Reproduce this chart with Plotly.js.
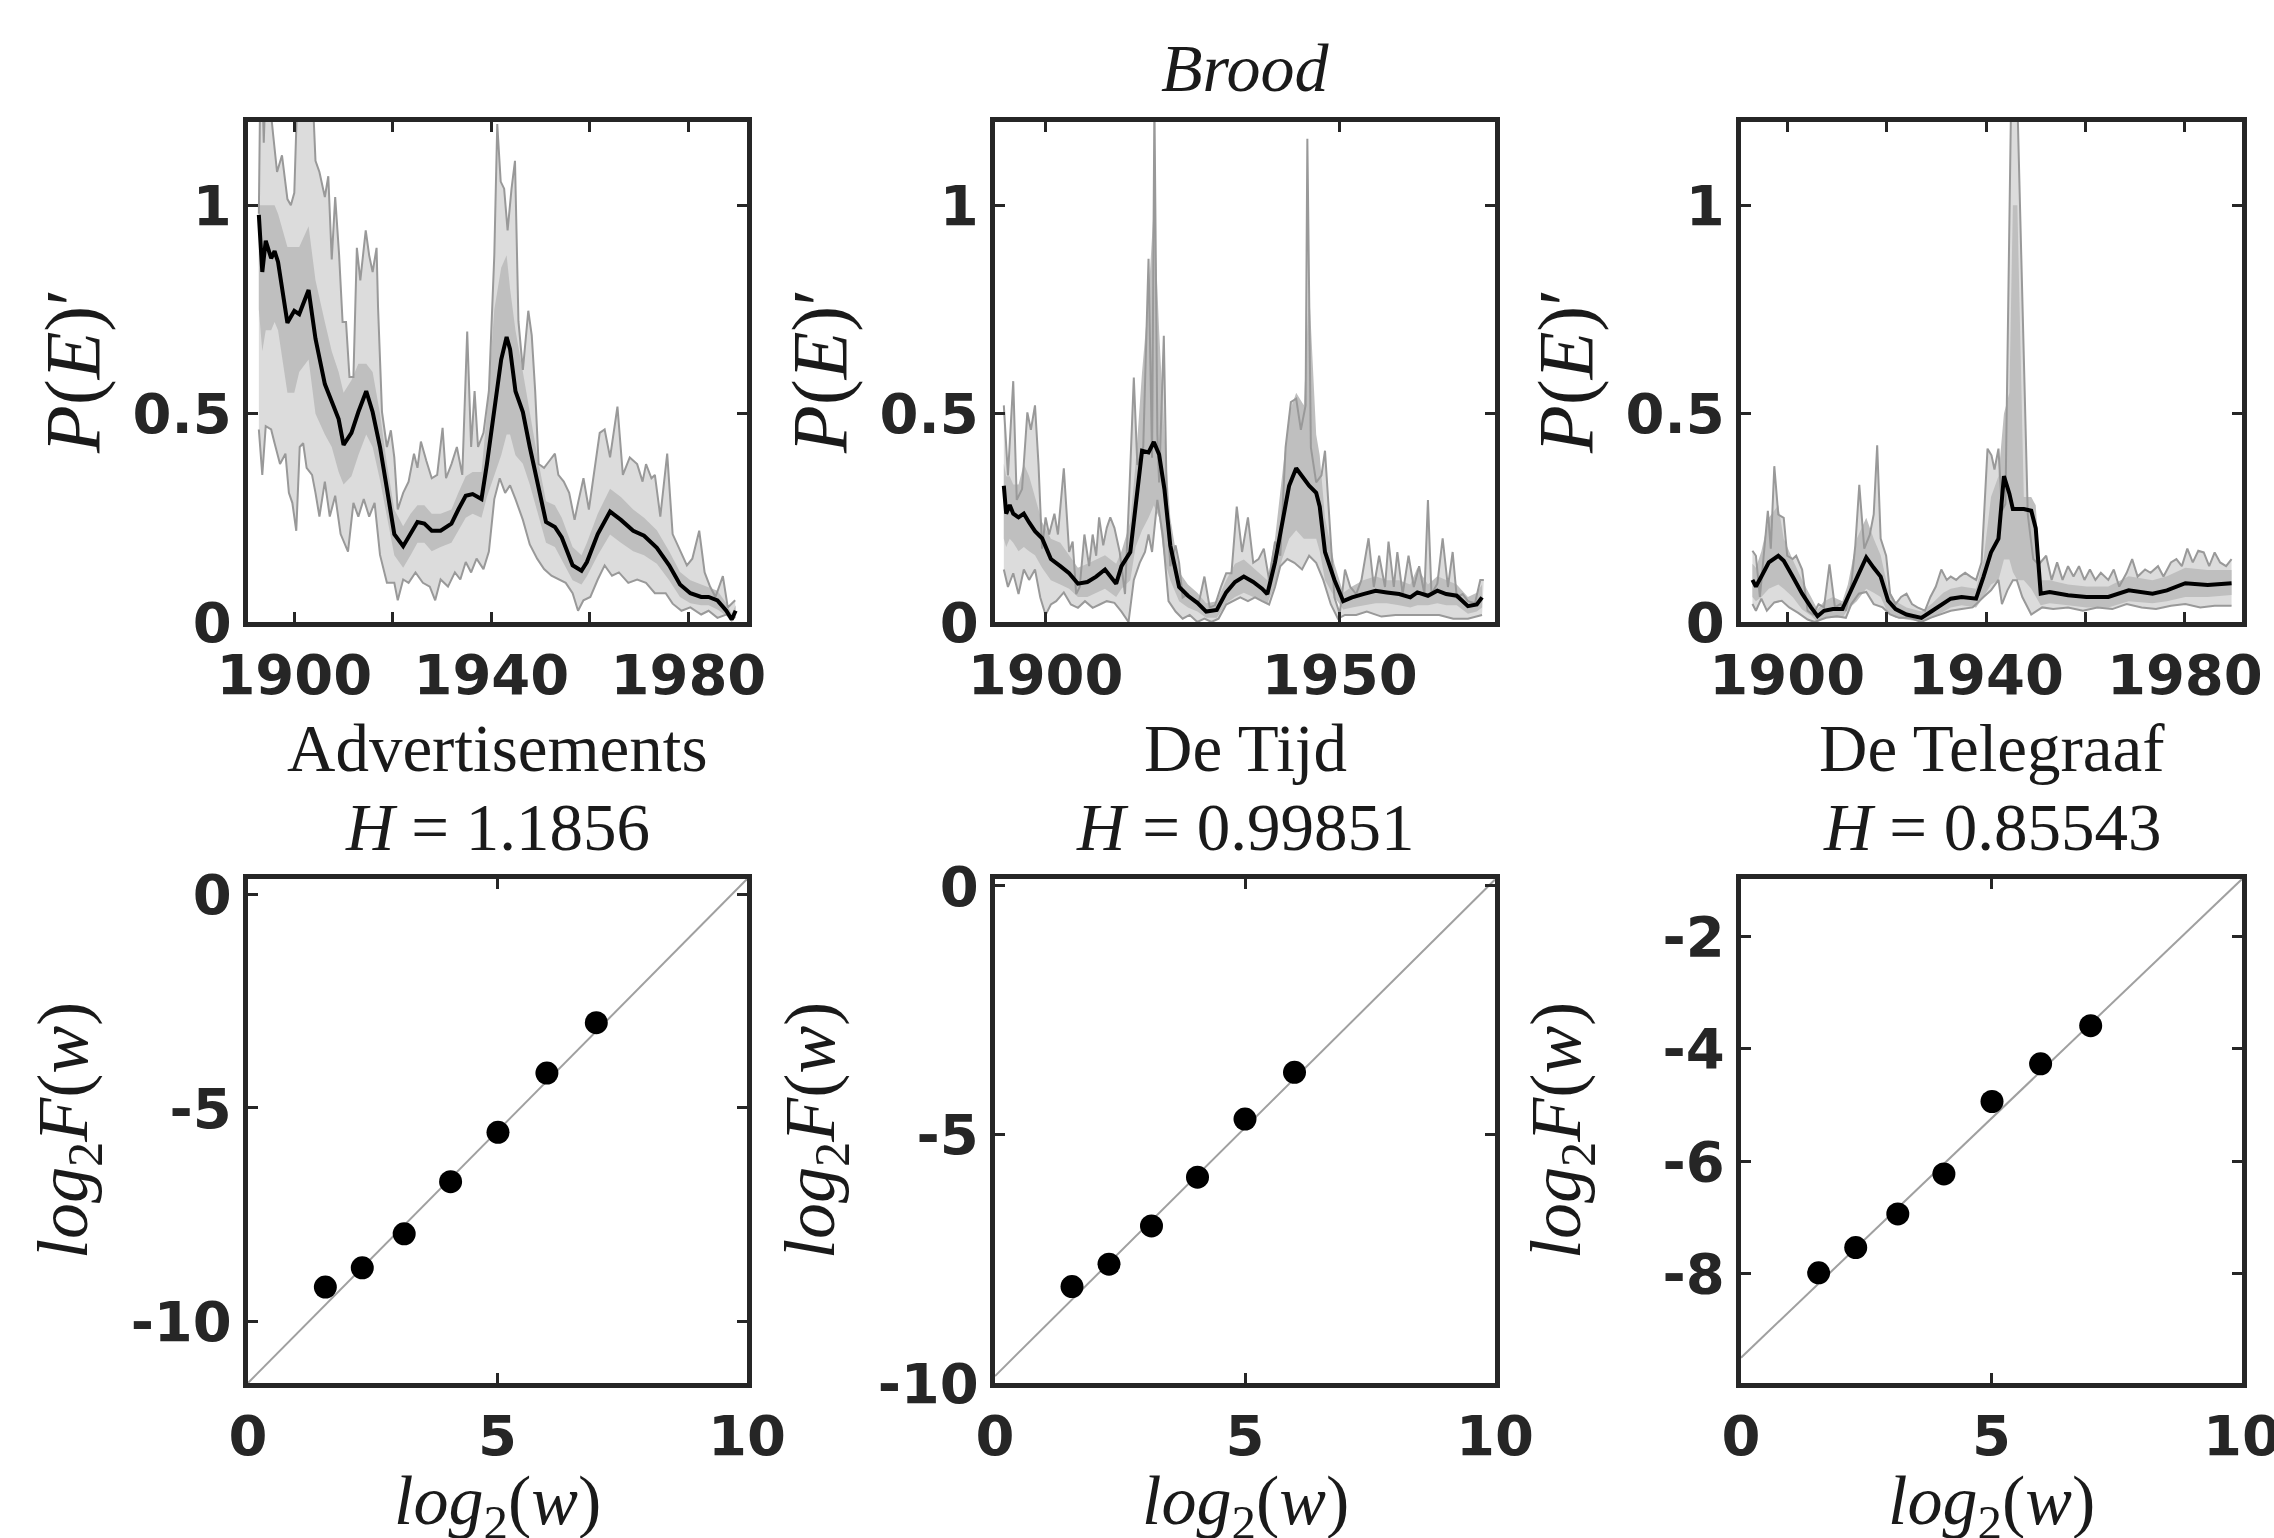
<!DOCTYPE html>
<html>
<head>
<meta charset="utf-8">
<script src="https://cdn.plot.ly/plotly-3.0.1.min.js"></script>
<style>html,body{margin:0;padding:0;background:#fff;}#chart{width:2274px;height:1538px;}</style>
</head>
<body>
<div id="chart"></div>
<script>
// ---------- Top row: P(E)' time series ----------
// Advertisements
const advMeanYear = [1892.8,1893.5,1894.2,1895.3,1896.0,1896.7,1898.6,1900.0,1901.0,1902.9,1904.3,1906.2,1907.6,1909.0,1910.0,1911.6,1913.0,1914.6,1915.9,1917.4,1918.8,1920.3,1922.1,1923.6,1925.0,1926.4,1927.9,1929.7,1931.9,1933.3,1934.8,1936.2,1938.0,1939.1,1940.6,1942.0,1943.1,1943.8,1944.9,1946.4,1947.8,1949.3,1951.1,1952.9,1954.3,1956.5,1958.3,1959.4,1961.6,1964.1,1966.3,1968.8,1971.0,1973.6,1976.1,1978.3,1980.4,1982.6,1984.1,1985.9,1987.7,1988.8,1989.6];
const advMean = [0.977,0.84,0.915,0.873,0.89,0.864,0.718,0.747,0.739,0.797,0.68,0.571,0.529,0.487,0.425,0.454,0.504,0.554,0.504,0.42,0.32,0.211,0.182,0.211,0.24,0.236,0.219,0.219,0.236,0.27,0.303,0.307,0.295,0.379,0.504,0.63,0.684,0.655,0.554,0.504,0.42,0.337,0.24,0.228,0.203,0.136,0.123,0.144,0.211,0.265,0.245,0.219,0.207,0.178,0.136,0.09,0.069,0.06,0.06,0.052,0.027,0.006,0.027];
const advBandHigh = [1.0,1.0,1.0,1.0,1.0,0.98,0.9,0.9,0.9,0.95,0.82,0.72,0.65,0.6,0.55,0.58,0.62,0.62,0.6,0.5,0.38,0.27,0.23,0.26,0.28,0.28,0.26,0.26,0.27,0.31,0.35,0.36,0.36,0.5,0.75,0.85,0.88,0.8,0.7,0.6,0.5,0.4,0.29,0.28,0.25,0.18,0.16,0.19,0.26,0.32,0.3,0.27,0.25,0.22,0.17,0.12,0.1,0.09,0.085,0.075,0.045,0.02,0.04];
const advBandLow = [0.75,0.65,0.7,0.7,0.72,0.7,0.55,0.55,0.6,0.63,0.5,0.45,0.42,0.36,0.33,0.35,0.4,0.45,0.42,0.34,0.25,0.16,0.13,0.16,0.19,0.19,0.17,0.18,0.19,0.22,0.25,0.26,0.25,0.3,0.35,0.4,0.45,0.45,0.4,0.38,0.33,0.27,0.19,0.18,0.15,0.1,0.09,0.11,0.16,0.21,0.19,0.17,0.16,0.14,0.1,0.06,0.045,0.04,0.04,0.03,0.015,0.0,0.01];
const advUpYear = [1892.8,1893.1,1893.5,1893.8,1894.2,1894.6,1895.7,1896.5,1897.5,1898.6,1899.3,1900.0,1900.7,1901.4,1902.5,1903.6,1904.3,1905.1,1906.2,1906.9,1907.6,1908.3,1909.1,1909.8,1910.5,1911.2,1912.0,1912.7,1913.4,1914.5,1915.2,1915.9,1916.7,1917.0,1917.8,1918.8,1919.6,1920.3,1921.0,1922.1,1923.2,1924.3,1925.0,1925.7,1926.8,1927.9,1929.0,1930.1,1930.8,1931.9,1933.0,1934.1,1935.1,1935.9,1936.6,1937.3,1938.4,1939.5,1940.6,1941.2,1941.9,1942.6,1943.3,1944.1,1944.8,1945.5,1946.4,1947.5,1948.2,1948.9,1949.6,1950.7,1951.8,1952.9,1953.6,1954.7,1955.8,1956.9,1957.6,1958.7,1959.8,1960.9,1962.0,1963.0,1964.1,1965.6,1966.7,1968.1,1969.6,1970.7,1971.4,1972.5,1973.2,1974.3,1975.7,1976.8,1978.3,1979.7,1980.8,1982.2,1983.3,1984.4,1985.5,1987.0,1988.0,1989.5];
const advUpVal = [0.98,1.3,1.3,1.15,1.3,1.3,1.17,1.08,1.12,1.015,1.0,1.03,1.3,1.3,1.3,1.3,1.107,1.08,1.02,1.07,0.87,1.02,0.88,0.72,0.72,0.588,0.588,0.898,0.82,0.94,0.88,0.84,0.898,0.755,0.504,0.42,0.46,0.395,0.27,0.31,0.337,0.404,0.37,0.433,0.387,0.345,0.353,0.466,0.345,0.379,0.42,0.353,0.697,0.42,0.554,0.42,0.454,0.554,0.88,1.195,1.057,1.04,0.94,1.04,1.107,0.722,0.605,0.747,0.688,0.554,0.379,0.37,0.387,0.404,0.353,0.337,0.31,0.245,0.286,0.345,0.27,0.362,0.454,0.462,0.395,0.517,0.353,0.395,0.379,0.337,0.379,0.345,0.353,0.253,0.404,0.211,0.17,0.136,0.152,0.219,0.119,0.085,0.06,0.11,0.035,0.052];
const advLoYear = [1892.8,1893.5,1894.2,1895.3,1896.0,1897.1,1898.2,1898.9,1899.6,1900.4,1901.1,1901.8,1902.5,1903.6,1904.3,1905.1,1906.2,1907.2,1908.3,1909.4,1910.9,1912.0,1913.0,1914.1,1915.2,1916.3,1917.4,1918.8,1920.3,1921.0,1922.1,1923.2,1924.6,1926.1,1927.5,1928.6,1929.7,1931.2,1932.6,1933.7,1934.8,1935.9,1937.0,1938.4,1939.5,1940.6,1941.7,1942.8,1943.8,1944.9,1946.4,1947.8,1949.3,1950.7,1952.2,1953.6,1955.1,1956.5,1957.6,1958.7,1960.1,1961.6,1963.0,1964.5,1965.9,1967.8,1969.6,1971.4,1973.2,1975.4,1976.8,1978.6,1980.4,1982.6,1984.1,1985.9,1987.7,1989.5];
const advLoVal = [0.462,0.353,0.47,0.462,0.429,0.379,0.404,0.31,0.286,0.219,0.42,0.429,0.37,0.353,0.31,0.253,0.337,0.253,0.303,0.211,0.169,0.286,0.253,0.295,0.253,0.286,0.161,0.094,0.094,0.052,0.102,0.094,0.119,0.094,0.085,0.052,0.102,0.085,0.119,0.102,0.144,0.119,0.152,0.127,0.169,0.295,0.345,0.31,0.328,0.295,0.245,0.186,0.152,0.127,0.111,0.102,0.094,0.069,0.027,0.052,0.06,0.102,0.136,0.111,0.119,0.094,0.102,0.094,0.069,0.069,0.044,0.027,0.035,0.018,0.027,0.01,0.018,0.01];

// De Tijd
const tijdMeanYear = [1892.9,1893.3,1893.9,1894.5,1895.4,1896.3,1897.2,1898.2,1899.4,1900.9,1902.5,1904.0,1905.5,1907.1,1908.6,1910.1,1912.0,1912.9,1914.4,1915.3,1916.4,1917.5,1918.4,1919.3,1920.2,1921.2,1922.7,1924.2,1925.8,1927.3,1929.1,1930.7,1932.2,1933.7,1935.3,1936.8,1937.7,1939.0,1940.2,1941.4,1942.6,1943.9,1944.8,1946.0,1946.6,1947.5,1949.1,1950.6,1952.1,1954.0,1956.1,1958.0,1960.1,1962.0,1963.2,1965.0,1966.6,1968.1,1969.9,1971.8,1973.3,1974.2];
const tijdMean = [0.327,0.26,0.281,0.26,0.251,0.26,0.239,0.218,0.201,0.151,0.134,0.117,0.092,0.096,0.109,0.126,0.092,0.134,0.168,0.277,0.411,0.407,0.432,0.402,0.319,0.184,0.084,0.063,0.046,0.025,0.029,0.071,0.096,0.109,0.096,0.08,0.067,0.143,0.235,0.327,0.369,0.344,0.327,0.31,0.277,0.168,0.101,0.05,0.059,0.067,0.075,0.071,0.067,0.059,0.071,0.063,0.075,0.067,0.063,0.038,0.042,0.059];
const tijdBandHigh = [0.38,0.35,0.35,0.33,0.33,0.38,0.35,0.3,0.24,0.2,0.19,0.16,0.13,0.14,0.15,0.16,0.14,0.17,0.24,0.38,0.6,0.78,1.0,0.7,0.45,0.25,0.12,0.09,0.07,0.045,0.05,0.1,0.14,0.15,0.13,0.11,0.1,0.2,0.35,0.5,0.55,0.52,0.8,0.45,0.4,0.25,0.14,0.07,0.085,0.1,0.11,0.1,0.1,0.09,0.13,0.09,0.11,0.1,0.09,0.06,0.07,0.09];
const tijdBandLow = [0.2,0.18,0.2,0.19,0.17,0.18,0.17,0.16,0.13,0.1,0.09,0.08,0.06,0.06,0.07,0.08,0.06,0.08,0.1,0.18,0.22,0.25,0.28,0.25,0.15,0.1,0.05,0.035,0.025,0.01,0.01,0.045,0.06,0.07,0.06,0.05,0.045,0.09,0.15,0.2,0.22,0.2,0.2,0.2,0.17,0.1,0.06,0.03,0.035,0.04,0.045,0.045,0.04,0.035,0.04,0.04,0.045,0.04,0.04,0.02,0.025,0.035];
const tijdUpYear = [1892.9,1893.6,1894.5,1895.1,1896.0,1896.9,1897.5,1898.2,1898.8,1899.4,1900.0,1900.6,1901.5,1902.1,1903.1,1904.0,1904.6,1905.2,1905.8,1906.6,1907.4,1908.0,1908.6,1909.1,1909.8,1910.4,1911.0,1911.7,1912.6,1913.5,1914.3,1915.0,1915.6,1916.6,1917.5,1918.1,1918.5,1919.0,1919.3,1920.1,1920.6,1921.2,1922.1,1922.7,1923.3,1924.2,1925.2,1926.1,1927.0,1927.9,1928.8,1929.8,1930.7,1931.6,1932.5,1933.4,1934.4,1935.3,1936.2,1937.1,1938.0,1939.0,1939.9,1940.8,1941.7,1942.6,1943.4,1944.2,1944.5,1945.1,1946.0,1946.9,1947.5,1948.2,1949.1,1950.0,1950.9,1951.8,1952.8,1953.7,1954.9,1955.8,1956.7,1957.7,1958.3,1959.2,1959.8,1960.7,1961.7,1962.6,1963.5,1964.4,1965.0,1965.6,1966.6,1967.5,1968.4,1969.2,1969.9,1970.9,1971.8,1973.0,1973.9,1974.5];
const tijdUpVal = [0.52,0.352,0.578,0.293,0.319,0.503,0.461,0.52,0.377,0.176,0.251,0.21,0.26,0.21,0.369,0.168,0.193,0.067,0.084,0.21,0.134,0.21,0.159,0.251,0.184,0.226,0.251,0.226,0.168,0.067,0.335,0.587,0.377,0.419,0.872,0.394,1.25,0.45,0.335,0.687,0.293,0.134,0.184,0.142,0.059,0.067,0.05,0.05,0.109,0.035,0.04,0.084,0.117,0.117,0.277,0.168,0.251,0.142,0.151,0.176,0.101,0.193,0.159,0.419,0.528,0.536,0.461,0.52,1.16,0.419,0.335,0.352,0.411,0.251,0.059,0.02,0.126,0.084,0.067,0.101,0.201,0.084,0.159,0.084,0.193,0.084,0.168,0.067,0.159,0.084,0.134,0.067,0.293,0.067,0.092,0.201,0.084,0.168,0.059,0.067,0.05,0.045,0.101,0.101];
const tijdLoYear = [1892.9,1893.6,1894.5,1895.4,1896.3,1897.2,1898.2,1899.1,1900.0,1900.9,1901.8,1903.1,1904.3,1905.5,1906.7,1908.0,1909.2,1910.4,1911.7,1912.9,1914.1,1915.0,1916.0,1916.9,1917.5,1918.1,1919.0,1919.9,1920.9,1922.1,1923.3,1924.5,1925.8,1927.0,1928.2,1929.4,1930.7,1931.9,1933.1,1934.4,1935.6,1936.8,1938.0,1939.0,1939.9,1941.1,1942.3,1943.6,1944.8,1946.0,1947.2,1948.5,1949.7,1950.9,1952.8,1954.6,1957.1,1959.5,1962.0,1964.4,1966.9,1969.3,1971.8,1974.2];
const tijdLoVal = [0.126,0.084,0.117,0.067,0.126,0.101,0.126,0.059,0.017,0.042,0.05,0.071,0.042,0.034,0.05,0.034,0.042,0.05,0.046,0.025,0.0,0.101,0.142,0.168,0.21,0.168,0.293,0.21,0.05,0.025,0.008,0.017,0.0,0.008,0.0,0.008,0.042,0.05,0.059,0.05,0.059,0.05,0.042,0.084,0.134,0.151,0.142,0.126,0.159,0.142,0.101,0.042,0.008,0.017,0.017,0.025,0.013,0.017,0.017,0.017,0.017,0.008,0.008,0.017];

// De Telegraaf
const telMeanYear = [1893.0,1893.7,1894.8,1896.3,1898.2,1899.3,1901.1,1903.0,1904.8,1906.1,1907.4,1909.2,1911.1,1912.2,1914.0,1915.9,1917.4,1918.8,1920.3,1921.8,1924.0,1927.0,1929.2,1931.4,1932.9,1935.1,1938.0,1939.5,1941.0,1942.5,1943.6,1944.7,1945.4,1946.3,1947.6,1949.1,1950.0,1951.0,1952.8,1956.5,1960.2,1964.6,1968.7,1973.5,1976.4,1980.1,1984.6,1989.4];
const telMean = [0.101,0.085,0.109,0.143,0.159,0.147,0.109,0.068,0.035,0.014,0.027,0.031,0.031,0.06,0.109,0.155,0.13,0.109,0.051,0.031,0.018,0.01,0.027,0.043,0.056,0.06,0.056,0.109,0.167,0.2,0.35,0.308,0.271,0.271,0.271,0.267,0.225,0.068,0.072,0.064,0.06,0.06,0.076,0.068,0.076,0.093,0.089,0.093];
const telBandHigh = [0.14,0.13,0.17,0.25,0.28,0.2,0.15,0.1,0.06,0.03,0.05,0.06,0.05,0.09,0.2,0.25,0.2,0.16,0.08,0.05,0.035,0.025,0.045,0.07,0.08,0.085,0.08,0.15,0.3,0.35,0.5,0.55,1.0,1.0,0.3,0.3,0.28,0.1,0.1,0.09,0.085,0.085,0.11,0.1,0.11,0.13,0.125,0.125];
const telBandLow = [0.06,0.05,0.06,0.08,0.09,0.08,0.06,0.03,0.015,0.0,0.01,0.01,0.01,0.03,0.05,0.08,0.07,0.06,0.02,0.01,0.005,0.0,0.01,0.025,0.035,0.04,0.035,0.06,0.09,0.1,0.15,0.15,0.12,0.1,0.1,0.08,0.06,0.04,0.045,0.04,0.035,0.035,0.05,0.045,0.05,0.06,0.06,0.065];
const telUpYear = [1893.0,1893.7,1894.5,1895.2,1896.1,1896.7,1897.4,1898.2,1899.3,1900.0,1901.1,1901.8,1903.0,1904.1,1905.2,1906.3,1907.4,1908.5,1909.6,1910.7,1911.8,1912.9,1913.7,1914.5,1915.5,1916.6,1917.4,1918.1,1918.8,1919.9,1920.7,1921.8,1922.9,1924.0,1925.1,1926.2,1927.7,1928.8,1929.9,1931.0,1932.1,1932.9,1934.0,1934.7,1935.8,1936.9,1938.0,1939.1,1940.3,1941.1,1941.7,1942.5,1943.2,1943.9,1945.1,1946.2,1947.3,1948.4,1949.5,1950.6,1952.1,1953.2,1954.3,1955.4,1956.5,1957.6,1958.7,1959.8,1960.9,1962.0,1963.1,1964.6,1965.7,1966.8,1968.3,1969.4,1970.5,1972.0,1973.1,1974.6,1975.7,1977.2,1978.3,1979.4,1980.5,1981.6,1982.7,1983.8,1984.9,1986.0,1987.1,1988.3,1989.4];
const telUpVal = [0.171,0.159,0.06,0.159,0.267,0.176,0.374,0.258,0.25,0.159,0.151,0.159,0.126,0.027,0.018,0.043,0.035,0.138,0.035,0.043,0.027,0.093,0.184,0.329,0.176,0.209,0.258,0.424,0.2,0.159,0.068,0.043,0.06,0.068,0.043,0.035,0.027,0.06,0.085,0.126,0.101,0.109,0.101,0.109,0.118,0.109,0.101,0.143,0.416,0.4,0.366,0.416,0.267,0.283,1.3,1.3,0.756,0.258,0.151,0.138,0.159,0.101,0.143,0.101,0.134,0.109,0.134,0.101,0.126,0.101,0.118,0.101,0.126,0.085,0.118,0.151,0.109,0.126,0.118,0.134,0.109,0.143,0.151,0.134,0.176,0.143,0.171,0.167,0.134,0.167,0.143,0.134,0.151];
const telLoYear = [1893.0,1893.7,1894.8,1895.9,1897.4,1898.9,1900.4,1902.2,1904.1,1905.5,1907.8,1910.0,1911.8,1912.9,1914.4,1915.9,1917.4,1919.2,1920.7,1922.5,1924.7,1927.0,1928.8,1930.6,1932.9,1935.1,1937.3,1939.5,1941.0,1942.5,1943.2,1944.3,1945.4,1946.2,1947.3,1949.1,1951.3,1953.5,1956.5,1959.5,1962.4,1965.4,1968.3,1971.3,1974.2,1977.2,1980.1,1983.1,1986.0,1989.4];
const telLoVal = [0.043,0.027,0.056,0.027,0.047,0.051,0.035,0.022,0.006,0.0,0.01,0.014,0.01,0.043,0.068,0.072,0.043,0.035,0.018,0.01,0.01,0.0,0.01,0.018,0.027,0.031,0.035,0.06,0.076,0.101,0.043,0.076,0.1,0.1,0.06,0.018,0.035,0.031,0.035,0.027,0.035,0.031,0.043,0.035,0.031,0.039,0.043,0.035,0.039,0.039];

// ---------- Bottom row: DFA log-log ----------
const advLogW = [1.55,2.29,3.13,4.06,5.01,5.99,6.98];
const advLogF = [-9.2,-8.75,-7.95,-6.73,-5.57,-4.18,-3.0];
const advFitX = [0,10];
const advFitY = [-11.45,0.37];
const tijdLogW = [1.54,2.28,3.13,4.05,5.0,5.99];
const tijdLogF = [-8.06,-7.61,-6.84,-5.86,-4.69,-3.75];
const tijdFitX = [0,10];
const tijdFitY = [-9.86,0.13];
const telLogW = [1.55,2.29,3.13,4.05,5.01,5.98,6.98];
const telLogF = [-7.99,-7.54,-6.94,-6.23,-4.94,-4.27,-3.59];
const telFitX = [0,10];
const telFitY = [-9.5,-0.98];

const panelNames = ['Advertisements','De Tijd','De Telegraaf'];
const hurst = ['1.1856','0.99851','0.85543'];
const figTitle = 'Brood';

// ---------- build ----------
const LIGHT='#dcdcdc', MID='#bfbfbf', EDGE='#999999';
function rev(a){return a.slice().reverse();}
function topTraces(n, upX, upY, loX, loY, mX, mY, bH, bL){
  const xa='x'+(n===1?'':n), ya='y'+(n===1?'':n);
  return [
    {x:upX.concat(rev(loX)), y:upY.concat(rev(loY)), xaxis:xa, yaxis:ya, mode:'lines', fill:'toself', fillcolor:LIGHT, line:{width:0}, hoverinfo:'skip'},
    {x:mX.concat(rev(mX)), y:bH.concat(rev(bL)), xaxis:xa, yaxis:ya, mode:'lines', fill:'toself', fillcolor:MID, line:{width:0}, hoverinfo:'skip'},
    {x:upX, y:upY, xaxis:xa, yaxis:ya, mode:'lines', line:{color:EDGE, width:2}, hoverinfo:'skip'},
    {x:loX, y:loY, xaxis:xa, yaxis:ya, mode:'lines', line:{color:EDGE, width:2}, hoverinfo:'skip'},
    {x:mX, y:mY, xaxis:xa, yaxis:ya, mode:'lines', line:{color:'#000', width:4}, hoverinfo:'skip'}
  ];
}
function botTraces(n, fx, fy, px, py){
  const xa='x'+n, ya='y'+n;
  return [
    {x:fx, y:fy, xaxis:xa, yaxis:ya, mode:'lines', line:{color:'#a0a0a0', width:2}, hoverinfo:'skip'},
    {x:px, y:py, xaxis:xa, yaxis:ya, mode:'markers', marker:{color:'#000', size:23}, hoverinfo:'skip'}
  ];
}
const data = [].concat(
  topTraces(1, advUpYear, advUpVal, advLoYear, advLoVal, advMeanYear, advMean, advBandHigh, advBandLow),
  topTraces(2, tijdUpYear, tijdUpVal, tijdLoYear, tijdLoVal, tijdMeanYear, tijdMean, tijdBandHigh, tijdBandLow),
  topTraces(3, telUpYear, telUpVal, telLoYear, telLoVal, telMeanYear, telMean, telBandHigh, telBandLow),
  botTraces(4, advFitX, advFitY, advLogW, advLogF),
  botTraces(5, tijdFitX, tijdFitY, tijdLogW, tijdLogF),
  botTraces(6, telFitX, telFitY, telLogW, telLogF)
);

const W=2274, H=1538;
const cols=[[248,747],[995,1495],[1741,2242]];
const rowTop=[122,622], rowBot=[879,1383];
function dx(c){return [c[0]/W, c[1]/W];}
function dy(r){return [1-r[1]/H, 1-r[0]/H];}
const tickFont={family:'DejaVu Sans', size:56, color:'#262626', weight:'bold'};
function ax(o){
  return Object.assign({showline:true, linecolor:'#262626', linewidth:5, mirror:'allticks', ticks:'inside', ticklen:10, tickwidth:3, tickcolor:'#262626', showgrid:false, zeroline:false, tickfont:tickFont, ticklabeloverflow:'allow', fixedrange:true, autorange:false}, o);
}
const minor20 = {tick0:1900, dtick:20, ticks:'inside', ticklen:10, tickwidth:3, tickcolor:'#262626', showgrid:false};
const layout = {
  width:W, height:H, margin:{l:0,r:0,t:0,b:0}, paper_bgcolor:'#fff', plot_bgcolor:'#fff', showlegend:false, hovermode:false,
  xaxis: ax({domain:dx(cols[0]), anchor:'y', range:[1890.6,1991.9], tickvals:[1900,1940,1980], ticktext:['1900','1940','1980'], minor:minor20}),
  yaxis: ax({domain:dy(rowTop), anchor:'x', range:[0,1.2], tickvals:[0,0.5,1], ticktext:['0','0.5','1']}),
  xaxis2: ax({domain:dx(cols[1]), anchor:'y2', range:[1891.4,1976.4], tickvals:[1900,1950], ticktext:['1900','1950']}),
  yaxis2: ax({domain:dy(rowTop), anchor:'x2', range:[0,1.2], tickvals:[0,0.5,1], ticktext:['0','0.5','1']}),
  xaxis3: ax({domain:dx(cols[2]), anchor:'y3', range:[1890.7,1991.5], tickvals:[1900,1940,1980], ticktext:['1900','1940','1980'], minor:minor20}),
  yaxis3: ax({domain:dy(rowTop), anchor:'x3', range:[0,1.2], tickvals:[0,0.5,1], ticktext:['0','0.5','1']}),
  xaxis4: ax({domain:dx(cols[0]), anchor:'y4', range:[0,10], tickvals:[0,5,10], ticktext:['0','5','10']}),
  yaxis4: ax({domain:dy(rowBot), anchor:'x4', range:[-11.45,0.37], tickvals:[-10,-5,0], ticktext:['-10','-5','0']}),
  xaxis5: ax({domain:dx(cols[1]), anchor:'y5', range:[0,10], tickvals:[0,5,10], ticktext:['0','5','10']}),
  yaxis5: ax({domain:dy(rowBot), anchor:'x5', range:[-10,0.14], tickvals:[-10,-5,0], ticktext:['-10','-5','0']}),
  xaxis6: ax({domain:dx(cols[2]), anchor:'y6', range:[0,10], tickvals:[0,5,10], ticktext:['0','5','10']}),
  yaxis6: ax({domain:dy(rowBot), anchor:'x6', range:[-9.95,-0.98], tickvals:[-10,-8,-6,-4,-2], ticktext:['-10','-8','-6','-4','-2']}),
  annotations: []
};
const serif={family:'Liberation Serif', size:66, color:'#1a1a1a'};
function ann(text, xpx, ypx, angle, size){
  layout.annotations.push({text:text, x:xpx/W, y:1-ypx/H, xref:'paper', yref:'paper', showarrow:false, xanchor:'center', yanchor:'middle', textangle:angle||0, font:Object.assign({}, serif, size?{size:size}:{})});
}
ann('<i>'+figTitle+'</i>', 1245, 68, 0, 68);
for(let i=0;i<3;i++){
  const cx=(cols[i][0]+cols[i][1])/2;
  ann(panelNames[i], cx, 748, 0, 67);
  ann('<i>H</i> = '+hurst[i], cx, 827, 0, 67);
  ann('<i>P</i>(<i>E</i>)′', cols[i][0]-176, 372, -90, 78);
  ann('<i>log</i><sub>2</sub><i>F</i>(<i>w</i>)', cols[i][0]-180, 1131, -90, 72);
  ann('<i>log</i><sub>2</sub>(<i>w</i>)', cx, 1506, 0, 70);
}
Plotly.newPlot('chart', data, layout, {staticPlot:true, displayModeBar:false});
</script>
</body>
</html>
